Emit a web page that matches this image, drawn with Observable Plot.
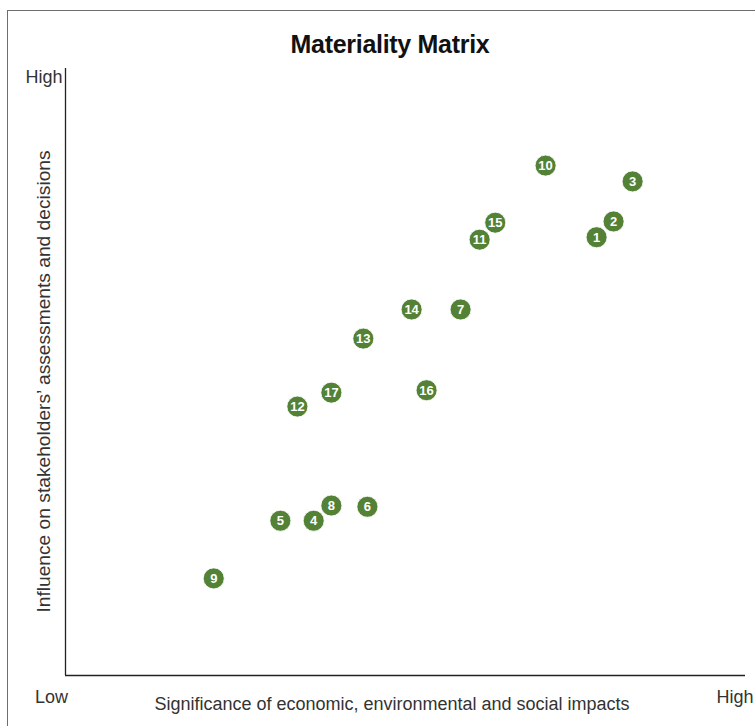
<!DOCTYPE html>
<html>
<head>
<meta charset="utf-8">
<script src="https://cdn.jsdelivr.net/npm/d3@7"></script>
<script src="https://cdn.jsdelivr.net/npm/@observablehq/plot@0.6"></script>
<style>
  html, body { margin: 0; padding: 0; background: #fff; }
  body { width: 755px; height: 726px; overflow: hidden; position: relative; font-family: "Liberation Sans", Arial, sans-serif; }
  #frame { position: absolute; left: 7px; top: 10px; width: 900px; height: 900px; border-left: 1.5px solid #6e6e6e; border-top: 1.5px solid #6e6e6e; pointer-events: none; }
  #title { position: absolute; left: 0; width: 780px; top: 30px; text-align: center; font-size: 25px; line-height: 29px; font-weight: bold; color: #111; letter-spacing: -0.3px; }
  #chart { position: absolute; left: 0; top: 0; }
</style>
</head>
<body>
<div id="chart"></div>
<div id="title">Materiality Matrix</div>
<div id="frame"></div>
<script>
const ids = [1, 2, 3, 4, 5, 6, 7, 8, 9, 10, 11, 12, 13, 14, 15, 16, 17];
const significance = [78.1, 80.6, 83.4, 36.5, 31.6, 44.4, 58.1, 39.1, 21.8, 70.6, 60.9, 34.1, 43.8, 50.9, 63.2, 53.1, 39.1];
const influence = [72.2, 74.8, 81.4, 25.5, 25.5, 27.8, 60.3, 28.0, 16.0, 84.0, 71.8, 44.3, 55.5, 60.3, 74.6, 47.0, 46.6];
const xLabel = "Significance of economic, environmental and social impacts";
const yLabel = "Influence on stakeholders’ assessments and decisions";
const lowLabel = "Low";
const highLabel = "High";

const data = ids.map((id, i) => ({ id, x: significance[i], y: influence[i] }));
const green = "#538135";
const textColor = "#333";
const labelSize = 18;

const chart = Plot.plot({
  width: 755,
  height: 726,
  marginLeft: 65,
  marginRight: 10,
  marginTop: 68,
  marginBottom: 51,
  style: { background: "transparent", fontFamily: "Liberation Sans, Arial, sans-serif" },
  x: { domain: [0, 100], axis: null },
  y: { domain: [0, 100], axis: null },
  marks: [
    Plot.ruleX([0], { stroke: "#222", strokeWidth: 1.3 }),
    Plot.ruleY([0], { stroke: "#222", strokeWidth: 1.3 }),
    Plot.dot(data, { x: "x", y: "y", r: 10.5, fill: green, stroke: "white", strokeWidth: 0.8 }),
    Plot.text(data, { x: "x", y: "y", text: d => String(d.id), fill: "white", fontWeight: "bold", fontSize: 13, dy: 0.5 }),
    Plot.text([lowLabel], { frameAnchor: "bottom-left", dx: -14, dy: 22, fontSize: labelSize, fill: textColor, textAnchor: "middle", lineAnchor: "middle" }),
    Plot.text([highLabel], { frameAnchor: "bottom-right", dx: 8, dy: 22, fontSize: labelSize, fill: textColor, textAnchor: "end", lineAnchor: "middle" }),
    Plot.text([highLabel], { frameAnchor: "top-left", dx: -3, dy: 9, fontSize: labelSize, fill: textColor, textAnchor: "end", lineAnchor: "middle" }),
    Plot.text([xLabel], { frameAnchor: "bottom", dx: -13.5, dy: 29, fontSize: labelSize, fill: textColor, textAnchor: "middle", lineAnchor: "middle" }),
    Plot.text([yLabel], { frameAnchor: "left", dx: -22, dy: 9.5, fontSize: 19.2, fill: textColor, rotate: -90, textAnchor: "middle", lineAnchor: "middle" })
  ]
});
document.getElementById("chart").appendChild(chart);
</script>
</body>
</html>
